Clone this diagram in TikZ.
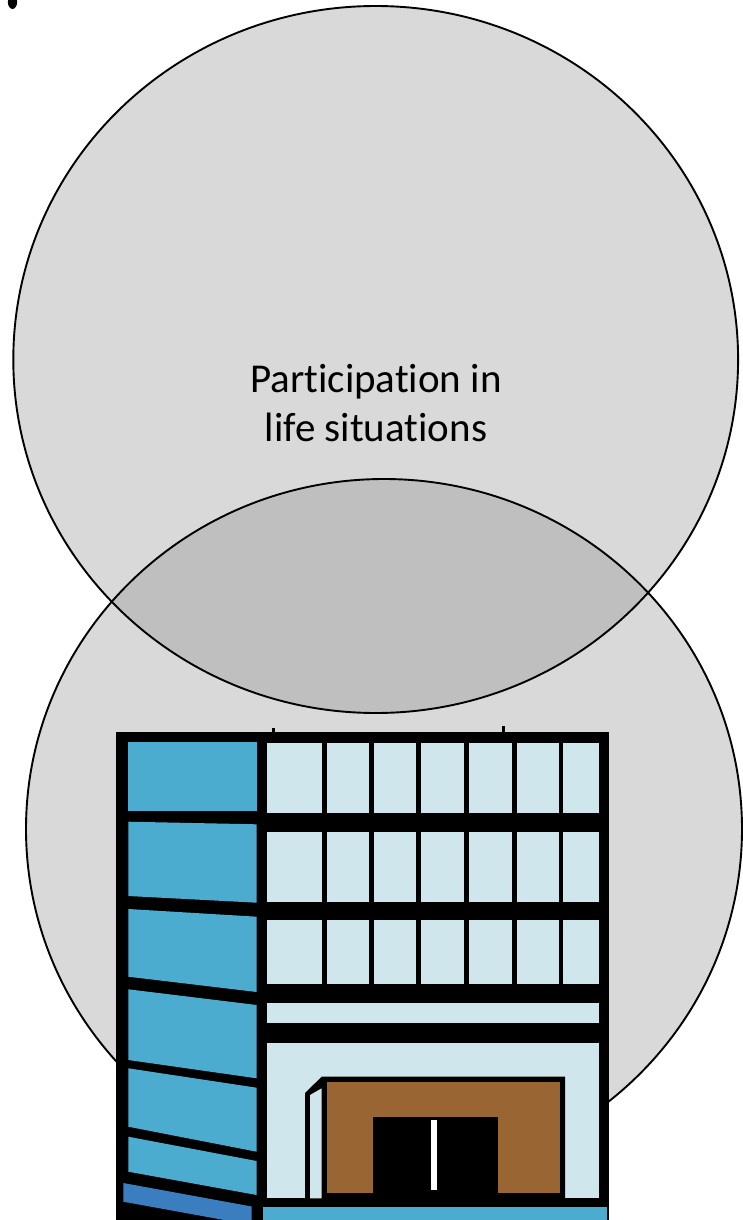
\documentclass[tikz,border=0pt]{standalone}
\usepackage{fontspec}
\setmainfont{Carlito}[Ligatures=NoCommon]
\definecolor{venngray}{HTML}{D9D9D9}
\definecolor{lensgray}{HTML}{BFBFBF}
\definecolor{wallblue}{HTML}{4BACD0}
\definecolor{glass}{HTML}{CFE7EC}
\definecolor{doorbrown}{HTML}{996633}
\definecolor{baseblue}{HTML}{3A7EC0}
\begin{document}
\begin{tikzpicture}[x=1pt,y=-1pt,
  setfill/.style={fill=venngray},
  setline/.style={draw=black,line width=1.9pt},
  label/.style={align=center,inner sep=0pt,text=black,
    font=\fontsize{41}{49}\selectfont},
  panel/.style={fill=wallblue},
  pane/.style={fill=glass}]
\clip (0,0) rectangle (743,1220);
\fill[white] (0,0) rectangle (743,1220);

% corner mark
\fill[black] (12.5,2) ellipse [x radius=4.6pt, y radius=7pt];

% two overlapping sets
\fill[setfill] (375.7,359.5) ellipse [x radius=362.4pt, y radius=353.5pt];
\fill[setfill] (384,829) ellipse [x radius=358pt, y radius=350pt];
\begin{scope}
  \clip (375.7,359.5) ellipse [x radius=362.4pt, y radius=353.5pt];
  \fill[lensgray] (384,829) ellipse [x radius=358pt, y radius=350pt];
\end{scope}
\draw[setline] (375.7,359.5) ellipse [x radius=362.4pt, y radius=353.5pt];
\draw[setline] (384,829) ellipse [x radius=358pt, y radius=350pt];

\node[label] (upper) at (376,403) {Participation in\\life situations};

% tips of the lower label peeking above the building
\fill[black] (271.8,728) rectangle (274.8,732);
\fill[black] (501.8,726) rectangle (504.8,732);

% building
\fill[black] (116,731.7) rectangle (609,1220);
\foreach \a/\b/\c/\d in {741.7/741.7/810.7/810.7, 821.7/824.3/896/902.7,
    909/916.7/976.7/992, 989.3/1005/1060/1078.3,
    1068.3/1087.7/1126.7/1151.7, 1136.7/1161/1171.7/1195}
  \fill[panel] (128.3,\a) -- (256.7,\b) -- (256.7,\d) -- (128.3,\c) -- cycle;
\fill[baseblue] (123.3,1183) -- (251.7,1206.5) -- (251.7,1225) -- (123.3,1201.7) -- cycle;

\foreach \l/\r in {266.7/321.7, 326.7/369.3, 374/416, 420.7/464,
    468.7/512, 516.7/558.7, 563.3/599.3}
  \foreach \t/\u in {742.7/812.7, 831.7/901.7, 920/984}
    \fill[pane] (\l,\t) rectangle (\r,\u);
\fill[pane] (266.7,1003.3) rectangle (599.3,1023.3);
\fill[pane] (266.7,1042.7) rectangle (599.3,1198.3);

% entrance
\fill[black] (305,1093) -- (321.7,1076.7) -- (565,1076.7) -- (565,1198.3) -- (305,1198.3) -- cycle;
\fill[pane] (310,1095) -- (321.7,1088.3) -- (321.7,1198.3) -- (310,1198.3) -- cycle;
\fill[doorbrown] (326.7,1081.7) rectangle (560,1193.3);
\fill[black] (373.3,1116.7) rectangle (498.3,1198.3);
\fill[white] (431,1120) rectangle (436.7,1190);

\fill[panel] (262.5,1207) rectangle (607,1225);
\end{tikzpicture}
\end{document}
